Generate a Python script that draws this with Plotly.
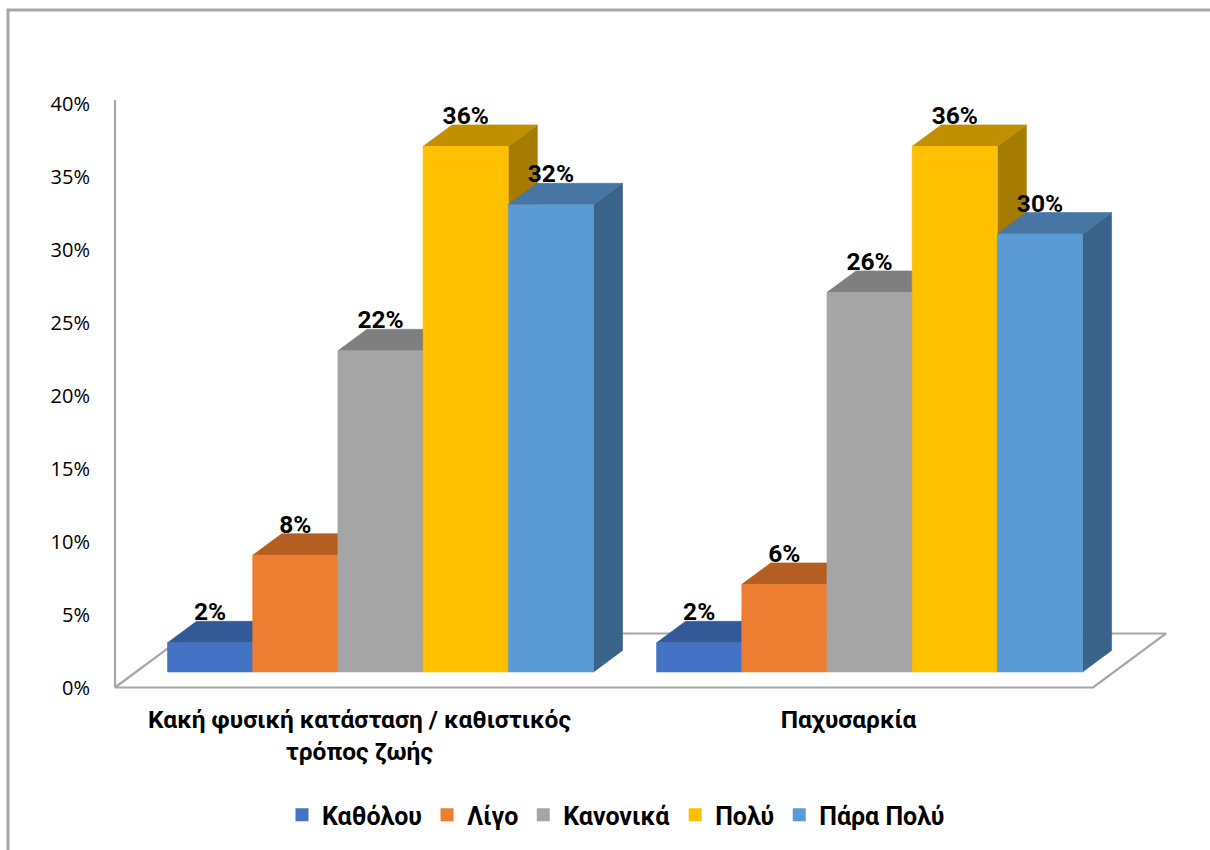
import plotly.graph_objects as go

# ---- data ----
categories = ["Κακή φυσική κατάσταση / καθιστικός<br>τρόπος ζωής", "Παχυσαρκία"]
series_names = ["Καθόλου", "Λίγο", "Κανονικά", "Πολύ", "Πάρα Πολύ"]
katholou = [2, 2]
ligo = [8, 6]
kanonika = [22, 26]
poly = [36, 36]
para_poly = [32, 30]
y_ticks = [0, 5, 10, 15, 20, 25, 30, 35, 40]
y_tick_labels = [f"{t}%" for t in y_ticks]

series_values = [katholou, ligo, kanonika, poly, para_poly]

# ---- styling ----
front_colors = ["#4472C4", "#ED7D31", "#A5A5A5", "#FFC000", "#5B9BD5"]
top_colors = ["#335A96", "#B45E22", "#7F7F7F", "#C09000", "#4676A3"]
side_colors = ["#2B4C80", "#9E511D", "#6B6B6B", "#A67C00", "#396388"]
grey_line = "#A6A6A6"

W, H = 1210, 850
PX_X = 85.2        # pixels per bar width (x unit)
PX_Y = 14.6        # pixels per percentage point
ORIGIN_X = 115     # pixel column of the floor's front-left corner
ORIGIN_Y = 687.5   # pixel row of the floor's front edge
MARGIN_L = 100
GAP = 0.74         # space between category groups, in bar widths
SLOPE = 0.74       # vertical rise per pixel of depth
D_FRONT, D_BAR, D_FLOOR = 21, 29, 73  # depth offsets in pixels
AXIS_TOP = (ORIGIN_Y - 100) / PX_Y

BOLD = "Roboto"
REG = "Open Sans"


def depth(d):
    """Screen offset (data units) of a point pushed d pixels back."""
    return d / PX_X, SLOPE * d / PX_Y


n_series = len(series_values)
group_span = n_series + GAP
fx, fy = depth(D_FRONT)
bx, by = depth(D_BAR)
flx, fly = depth(D_FLOOR)
floor_right = len(categories) * group_span

fig = go.Figure()

# floor
fig.add_trace(go.Scatter(
    x=[0, floor_right, floor_right + flx, flx, 0],
    y=[0, 0, fly, fly, 0],
    mode="lines", fill="toself", fillcolor="white",
    line=dict(color=grey_line, width=2.2), hoverinfo="skip", showlegend=False))

# value axis line
fig.add_trace(go.Scatter(
    x=[0, 0], y=[0, AXIS_TOP], mode="lines",
    line=dict(color=grey_line, width=2.2), hoverinfo="skip", showlegend=False))


def poly_trace(xs, ys, color):
    return go.Scatter(x=xs, y=ys, mode="lines", fill="toself", fillcolor=color,
                      line=dict(color=color, width=0.6), hoverinfo="skip",
                      showlegend=False)


label_x, label_y, label_txt = [], [], []
for j, vals in enumerate(series_values):
    sx, sy, tx, ty, frx, fry = [], [], [], [], [], []
    for g, v in enumerate(vals):
        xl = g * group_span + GAP / 2 + j + fx
        xr = xl + 1
        base = fy
        top = base + v
        # side face
        sx += [xr, xr + bx, xr + bx, xr, xr, None]
        sy += [base, base + by, top + by, top, base, None]
        # top face
        tx += [xl, xr, xr + bx, xl + bx, xl, None]
        ty += [top, top, top + by, top + by, top, None]
        # front face
        frx += [xl, xr, xr, xl, xl, None]
        fry += [base, base, top, top, base, None]
        label_x.append(xl + 0.5)
        label_y.append(top + by + 7 / PX_Y)
        label_txt.append(f"{v}%")
    fig.add_trace(poly_trace(sx, sy, side_colors[j]))
    fig.add_trace(poly_trace(tx, ty, top_colors[j]))
    fig.add_trace(poly_trace(frx, fry, front_colors[j]))

# data labels
fig.add_trace(go.Scatter(
    x=label_x, y=label_y, text=label_txt, mode="text",
    textposition="middle center", cliponaxis=False,
    textfont=dict(family=BOLD, size=24.5, color="black", weight="bold"),
    hoverinfo="skip", showlegend=False))

# legend entries
for name, color in zip(series_names, front_colors):
    fig.add_trace(go.Scatter(
        x=[None], y=[None], mode="markers", name=name,
        marker=dict(symbol="square", size=13, color=color)))

group_centers = [g * group_span + GAP / 2 + n_series / 2 for g in range(len(categories))]
plot_w = W - MARGIN_L

fig.update_layout(
    width=W, height=H, autosize=False,
    margin=dict(l=MARGIN_L, r=0, t=0, b=0, pad=0, autoexpand=False),
    paper_bgcolor="white", plot_bgcolor="white",
    xaxis=dict(
        range=[(MARGIN_L - ORIGIN_X) / PX_X, (W - ORIGIN_X) / PX_X],
        showgrid=False, zeroline=False, showline=False,
        tickvals=group_centers, ticktext=categories, ticks="",
        anchor="free", position=(H - ORIGIN_Y) / H,
        ticklabelstandoff=15, automargin=False,
        tickfont=dict(family=BOLD, size=24.5, color="black", weight="bold"),
        fixedrange=True),
    yaxis=dict(
        range=[(ORIGIN_Y - H) / PX_Y, ORIGIN_Y / PX_Y],
        showgrid=False, zeroline=False, showline=False,
        tickvals=y_ticks, ticktext=y_tick_labels, ticks="",
        ticklabelstandoff=9, automargin=False,
        tickfont=dict(family=REG, size=20, color="black"),
        fixedrange=True),
    legend=dict(
        orientation="h", xref="paper", yref="paper",
        x=(616 - MARGIN_L) / plot_w, y=1 - 815 / H,
        xanchor="center", yanchor="middle",
        font=dict(family=BOLD, size=25, color="black", weight="bold"),
        itemwidth=30, bgcolor="rgba(0,0,0,0)"),
    shapes=[dict(
        type="path", xref="paper", yref="paper",
        path=f"M {(8 - MARGIN_L) / plot_w},{-0.05} "
             f"L {(8 - MARGIN_L) / plot_w},{1 - 10 / H} "
             f"L 1.05,{1 - 10 / H}",
        line=dict(color=grey_line, width=3), layer="above")],
)

fig.write_html("out.html")
